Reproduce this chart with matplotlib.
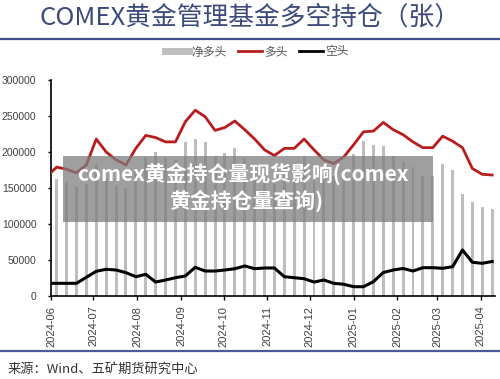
import matplotlib
matplotlib.use('Agg')
import matplotlib.pyplot as plt
import pandas as pd
from matplotlib.lines import Line2D
from matplotlib.patches import Rectangle

# weekly COMEX gold managed money positions (contracts)
long_pos = [166000, 179000, 176000, 171000, 182000, 218000, 200000, 189000, 182000, 205000,
            223000, 220000, 214000, 214000, 242000, 258000, 249000, 230000, 234000, 243000,
            231000, 218000, 203000, 195000, 205000, 205000, 218000, 203000, 189000, 184000,
            193000, 210000, 228000, 229000, 241000, 231000, 224000, 214000, 206000, 206000,
            222000, 215000, 206000, 177000, 169000, 168000]
short_pos = [17600, 17600, 17600, 17600, 26000, 34300, 37100, 36100, 32400, 26800,
             30100, 19400, 22200, 25400, 27800, 39900, 34700, 34700, 36100, 37900,
             41700, 37900, 38900, 38900, 26800, 25400, 24000, 19400, 22200, 17600,
             16300, 12900, 12900, 19900, 32600, 36100, 38200, 34700, 39300, 39300,
             38500, 40700, 63900, 46800, 45400, 47900]
net_pos = [148000, 162000, 158000, 152000, 156000, 184000, 163000, 153000, 150000, 178000,
           193000, 200000, 192000, 189000, 214000, 218000, 214000, 195000, 198000, 205000,
           192000, 180000, 164000, 156000, 178000, 180000, 194000, 184000, 167000, 166000,
           177000, 197000, 215000, 209000, 208000, 195000, 186000, 179000, 167000, 167000,
           184000, 175000, 142000, 130000, 124000, 121000]
dates = pd.date_range('2024-05-29', periods=len(long_pos), freq='7D')
month_ticks = pd.date_range('2024-06-01', '2025-04-01', freq='MS')
yticks = [0, 50000, 100000, 150000, 200000, 250000, 300000]

plt.rcParams['font.family'] = ['Noto Sans CJK SC', 'DejaVu Sans']

fig = plt.figure(figsize=(5, 3.79), dpi=100)
ax = fig.add_axes([0.102, 0.219, 0.888, 0.570])

ax.bar(dates, net_pos, width=2.1, color='#bdbdbd', zorder=1)
ax.plot(dates, long_pos, color='#b81c1c', lw=2, zorder=3)
ax.plot(dates, short_pos, color='black', lw=2.2, zorder=3)

ax.set_xlim(pd.Timestamp('2024-06-01'), pd.Timestamp('2025-04-11'))
ax.set_ylim(0, 300000)
ax.set_xticks(month_ticks)
ax.set_xticklabels([t.strftime('%Y-%m') for t in month_ticks], rotation=90,
                   fontsize=8, family='Liberation Sans', color='#404040')
ax.set_yticks(yticks)
ax.set_yticklabels([str(v) for v in yticks], fontsize=7.5, family='Liberation Sans',
                   color='#404040')
ax.spines['top'].set_visible(False)
ax.spines['right'].set_visible(False)
ax.spines['left'].set_linewidth(1.2)
ax.spines['bottom'].set_linewidth(1.2)
ax.tick_params(axis='y', length=2.5, width=1, pad=8)
ax.tick_params(axis='x', length=3, width=1, pad=4)

# title, rules, legend, source
fig.text(0.5, 1 - 18/379, 'COMEX黄金管理基金多空持仓（张）', fontsize=18.5,
         color='#3b4a7a', ha='center', va='center')
fig.add_artist(Line2D([0, 1], [1 - 39/379] * 2, transform=fig.transFigure,
                      color='#3d5088', lw=1.6))
fig.add_artist(Line2D([0, 1], [1 - 351/379] * 2, transform=fig.transFigure,
                      color='#4a5c94', lw=1.6))
handles = [Line2D([], [], color='#c0c0c0', lw=5),
           Line2D([], [], color='#b81c1c', lw=2),
           Line2D([], [], color='black', lw=2)]
leg = fig.legend(handles, ['净多头', '多头', '空头'], loc='center',
                 bbox_to_anchor=(257/500, 1 - 52/379), ncol=3, frameon=False,
                 fontsize=8.5, handlelength=2, handletextpad=0.2, columnspacing=1.0)
for t in leg.get_texts():
    t.set_color('#555555')
fig.text(8/500, 1 - 369/379, '来源：Wind、五矿期货研究中心', fontsize=9.5,
         color='#333333', va='center')

# watermark overlay
fig.add_artist(Rectangle((63/500, 1 - 222/379), 370/500, 66/379, transform=fig.transFigure,
                         facecolor='#7f7f7f', alpha=0.75, edgecolor='none', zorder=5))
fig.text(243/500, 1 - 174/379, 'comex黄金持仓量现货影响(comex', fontsize=15,
         fontweight='bold', color='white', ha='center', va='center', zorder=6)
fig.text(246/500, 1 - 201/379, '黄金持仓量查询)', fontsize=15,
         fontweight='bold', color='white', ha='center', va='center', zorder=6)

fig.savefig('out.png', dpi=100)
